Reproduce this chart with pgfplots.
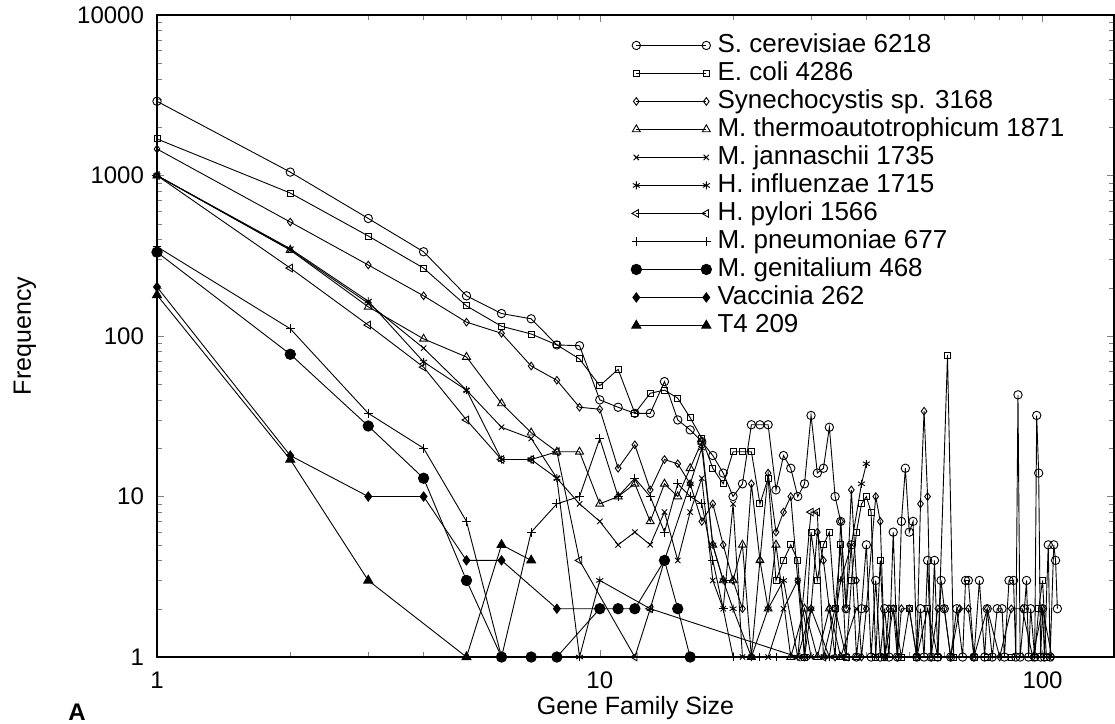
\documentclass[border=0pt]{standalone}
\usepackage{fontspec}
\setmainfont{Liberation Sans}
\usepackage{pgfplots}
\pgfplotsset{compat=1.18}
\newcommand\ft{\fontsize{12}{14}\selectfont}
\newcommand\fl{\fontsize{13}{14}\selectfont}

\begin{document}
\begin{tikzpicture}
\begin{axis}[
  scale only axis, width=478.5pt, height=321pt,
  xmode=log, ymode=log,
  xmin=1, xmax=145, ymin=1, ymax=10000,
  xtick={1,10,100}, xticklabels={1,10,100},
  ytick={1,10,100,1000,10000}, yticklabels={1,10,100,1000,10000},
  minor xtick={2,3,4,5,6,7,8,9,20,30,40,50,60,70,80,90},
  minor ytick={2,3,4,5,6,7,8,9,20,30,40,50,60,70,80,90,200,300,400,500,600,700,800,900,2000,3000,4000,5000,6000,7000,8000,9000},
  tick align=inside, major tick length=3.5pt, minor tick length=2.3pt,
  axis line style={line width=0.8pt},
  tick label style={font=\ft},
  yticklabel style={xshift=-3pt},
  xticklabel style={yshift=-4pt},
  xlabel={Gene Family Size}, ylabel={Frequency},
  label style={font=\fontsize{12.5}{14}\selectfont},
  xlabel style={at={(axis description cs:0.5,-0.0794)}, anchor=center},
  ylabel style={at={(axis description cs:-0.138,0.5)}, anchor=center},
  clip=false,
  every axis plot/.append style={black, line width=0.45pt, mark options={solid}},
  legend style={draw=none, fill=none, at={(axis description cs:0.495,0.975)}, anchor=north west,
    font=\fl, inner sep=0pt, row sep=0pt, column sep=2pt,
    nodes={inner sep=1pt, text height=9.4pt, text depth=2.6pt}},
  legend cell align=left,
  legend image code/.code={\draw[mark repeat=2,mark phase=1] plot coordinates {(0pt,0pt) (17.5pt,0pt) (35pt,0pt)};},
]
% S. cerevisiae
\addplot[mark=o, mark size=2.1pt] coordinates {
(1,2900)(2,1050)(3,540)(4,335)(5,178)(6,138)(7,128)(8,88)(9,87)(10,40)(11,36)(12,33)(13,33)(14,52)(15,30)(16,26)(17,22)(18,18)(19,14)(20,10)(21,12)(22,28)(23,28)(24,28)(25,11)(26,18)(27,15)(28,10)(29,12)(30,32)(31,14)(32,15)(33,27)(34,10)(35,7)(36,2)(37,5)(38,1)(39,2)(40,5)(41,1)(42,3)(43,1)(44,2)(45,1)(46,6)(47,1)(48,7)(49,15)(50,6)(51,7)(52,1)(53,2)(54,1)(55,4)(56,1)(57,4)(58,1)(59,3)(60,2)(62,1)(64,2)(66,1)(67,3)(68,3)(70,1)(72,3)(74,1)(75,2)(77,1)(79,2)(81,2)(82,1)(84,3)(86,3)(87,1)(88,43)(89,1)(91,2)(92,3)(93,1)(94,2)(96,1)(97,32)(98,14)(99,1)(100,2)(101,1)(103,5)(104,1)(106,5)(107,4)(108,2)
};
\addlegendentry{S. cerevisiae 6218}
% E. coli
\addplot[mark=square, mark size=1.5pt] coordinates {
(1,1690)(2,778)(3,420)(4,265)(5,154)(6,115)(7,103)(8,88)(9,72)(10,49)(11,62)(12,33)(13,44)(14,46)(15,41)(16,31)(17,23)(18,15)(19,12)(20,19)(21,19)(22,19)(23,9)(24,13)(25,3)(26,4)(27,5)(28,4)(29,1)(30,6)(31,3)(32,5)(33,6)(34,2)(35,5)(36,1)(37,3)(38,6)(39,9)(40,10)(41,8)(42,1)(43,4)(44,1)(46,2)(48,1)(50,2)(52,1)(55,2)(58,1)(61,76)(63,1)(70,1)(75,1)(85,1)(96,1)(98,2)(100,3)(102,1)
};
\addlegendentry{E. coli 4286}
% Synechocystis
\addplot[mark=diamond, mark size=1.9pt] coordinates {
(1,1463)(2,513)(3,277)(4,178)(5,122)(6,104)(7,65)(8,53)(9,36)(10,35)(11,15)(12,21)(13,11)(14,17)(15,16)(16,12)(17,7)(18,9)(19,5)(20,3)(21,2)(22,12)(23,4)(24,14)(25,6)(26,8)(27,10)(28,3)(29,1)(30,2)(31,6)(32,4)(33,2)(34,1)(35,7)(36,2)(37,11)(38,3)(39,1)(40,2)(42,10)(43,7)(44,1)(45,2)(46,2)(47,1)(48,2)(50,2)(52,1)(53,9)(54,34)(55,10)(56,1)(58,2)(60,2)(62,1)(65,2)(68,2)(70,1)(75,2)(80,1)(85,2)(90,2)(95,1)(100,2)(105,1)
};
\addlegendentry{Synechocystis sp. 3168}
% M. thermoautotrophicum
\addplot[mark=triangle, mark size=2.3pt] coordinates {
(1,1000)(2,343)(3,152)(4,96)(5,74)(6,38)(7,25)(8,19)(9,19)(10,9)(11,10)(12,12)(13,7)(14,12)(15,10)(16,15)(17,22)(18,5)(19,3)(20,3)(21,5)(22,1)(23,4)(24,2)(25,5)(27,1)(29,2)(31,1)(33,2)(35,1)(38,1)
};
\addlegendentry{M. thermoautotrophicum 1871}
% M. jannaschii
\addplot[mark=x, mark size=1.9pt] coordinates {
(1,1000)(2,345)(3,160)(4,84)(5,46)(6,27)(7,23)(8,13)(9,9)(10,7)(11,5)(12,6)(13,5)(14,8)(15,4)(16,8)(17,13)(18,3)(19,2)(20,9)(21,1)(22,1)(24,1)(26,2)(28,3)(30,1)(32,1)(35,1)(38,2)
};
\addlegendentry{M. jannaschii 1735}
% H. influenzae
\addplot[mark=asterisk, mark size=2pt] coordinates {
(1,1000)(2,350)(3,165)(4,69)(5,46)(6,17)(7,17)(8,13)(9,1)(10,3)(13,2)(14,4)(16,12)(17,20)(18,5)(19,3)(20,2)(22,1)(24,2)(26,3)(28,1)(30,2)(33,1)(35,3)(37,5)(39,12)(40,16)
};
\addlegendentry{H. influenzae 1715}
% H. pylori
\addplot[mark=triangle, mark size=2.2pt, mark options={rotate=90}] coordinates {
(1,1000)(2,265)(3,117)(4,64)(5,30)(6,17)(7,17)(8,19)(9,4)(12,1)(13,2)(28,1)(30,8)(31,8)(32,1)(34,2)(36,1)
};
\addlegendentry{H. pylori 1566}
% M. pneumoniae
\addplot[mark=+, mark size=2.2pt] coordinates {
(1,360)(2,111)(3,33)(4,20)(5,7)(6,1)(7,6)(8,9)(9,10)(10,23)(11,10)(12,13)(13,10)(14,6)(15,12)(16,10)(17,9)(18,4)(19,2)(20,1)(23,1)(25,1)
};
\addlegendentry{M. pneumoniae 677}
% M. genitalium
\addplot[mark=*, mark size=2.6pt] coordinates {
(1,333)(2,77)(3,27.5)(4,13)(5,3)(6,1)(7,1)(8,1)(10,2)(11,2)(12,2)(14,4)(15,2)(16,1)
};
\addlegendentry{M. genitalium 468}
% Vaccinia
\addplot[mark=diamond*, mark size=2.3pt] coordinates {
(1,202)(2,18)(3,10)(4,10)(5,4)(6,4)(8,2)(10,2)
};
\addlegendentry{Vaccinia 262}
% T4
\addplot[mark=triangle*, mark size=2.6pt] coordinates {
(1,180)(2,17)(3,3)(5,1)(6,5)(7,4)
};
\addlegendentry{T4 209}
\node[font=\bfseries\fontsize{12}{14}\selectfont] at (axis description cs:-0.0835,-0.0857) {A};
\end{axis}
\pgfresetboundingbox
\path[use as bounding box] ([xshift=-78.5pt,yshift=-33pt]current axis.south west) rectangle ([xshift=0.5pt,yshift=7.5pt]current axis.north east);
\end{tikzpicture}
\end{document}
